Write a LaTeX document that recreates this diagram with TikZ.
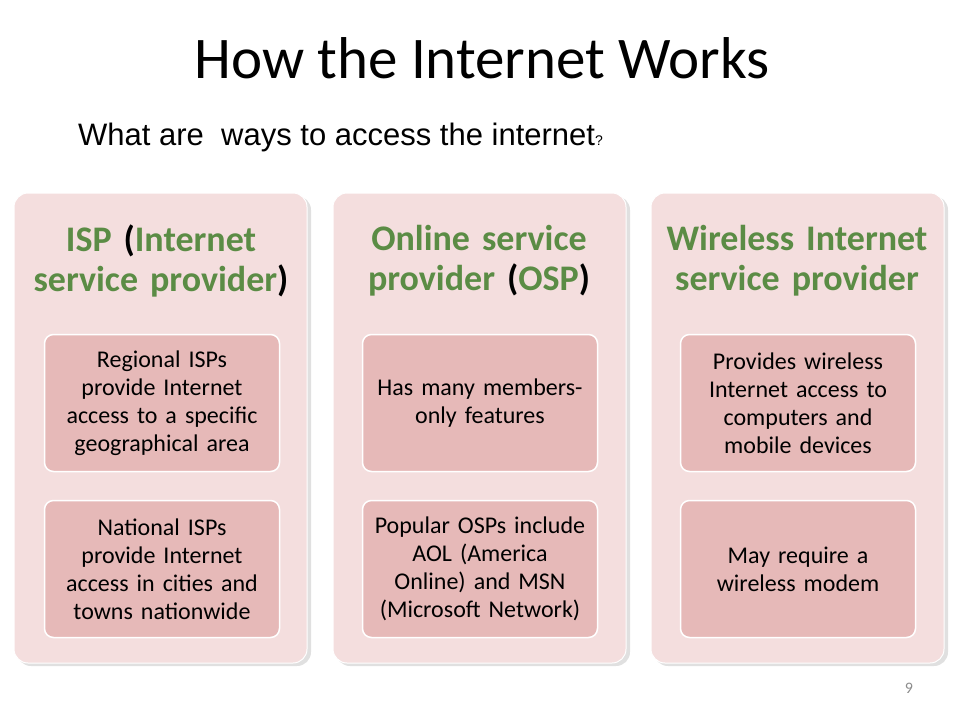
\documentclass[tikz,border=0pt]{standalone}
\usepackage{fontspec}
\setmainfont{Carlito}
\newfontfamily\arialf{Liberation Sans}
\definecolor{outerc}{HTML}{F4DEDE}
\definecolor{innerc}{HTML}{E6B9B8}
\definecolor{greenc}{HTML}{5B8C45}
\definecolor{grayc}{HTML}{8C8C8C}
\begin{document}
\begin{tikzpicture}[x=1pt,y=-1pt,
  panel/.style={fill=outerc,rounded corners=14pt,draw=white,line width=1pt},
  inner/.style={fill=innerc,rounded corners=9pt,draw=white,line width=1.5pt,
    text width=230pt,align=center,font=\fontsize{24}{28}\selectfont,minimum height=137pt,minimum width=235pt,inner sep=2pt},
  head/.style={text width=290pt,align=center,font=\fontsize{36}{40}\selectfont\bfseries,text=greenc}]
\useasboundingbox (0,0) rectangle (960,720);
\node (title) at (482,58) {\fontsize{59}{64}\selectfont How the Internet Works};
\node[anchor=west,inner sep=0pt] (sub) at (78,137) {\arialf\fontsize{31}{34}\selectfont What are\ \ ways to access the internet\raisebox{0pt}{\fontsize{14}{16}\selectfont ?}};
\foreach \x/\n in {14/a,333/b,651/c}{
  \fill[black!12,rounded corners=14pt] (\x+3,196) rectangle (\x+297,666);
  \draw[panel] (\x,193) rectangle (\x+293,663);
}
\node[head] (ha) at (161,261) {ISP \textcolor{black}{(}Internet\\ service provider\textcolor{black}{)}};
\node[head] (hb) at (479,261) {Online service\\ provider \textcolor{black}{(}OSP\textcolor{black}{)}};
\node[head] (hc) at (797,261) {Wireless Internet\\ service provider};
\node[inner] (a1) at (162,403) {Regional ISPs\\ provide Internet\\ access to a specific\\ geographical area};
\node[inner] (a2) at (162,569) {National ISPs\\ provide Internet\\ access in cities and\\ towns nationwide};
\node[inner] (b1) at (480,403) {Has many members-\\ only features};
\node[inner] (b2) at (480,569) {Popular OSPs include\\ AOL (America\\ Online) and MSN\\ (Microsoft Network)};
\node[inner] (c1) at (798,403) {Provides wireless\\ Internet access to\\ computers and\\ mobile devices};
\node[inner] (c2) at (798,569) {May require a\\ wireless modem};
\node[text=grayc,font=\fontsize{16}{18}\selectfont] (pg) at (909,688) {9};
\end{tikzpicture}
\end{document}
